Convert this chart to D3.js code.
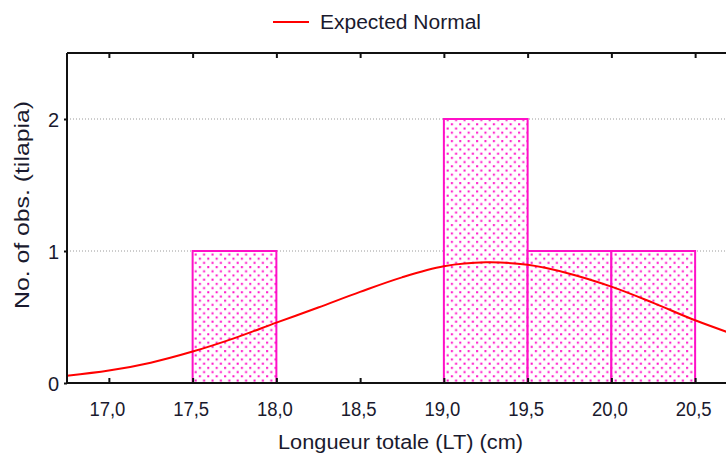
<!DOCTYPE html>
<html>
<head>
<meta charset="utf-8">
<script src="https://cdn.jsdelivr.net/npm/d3@7"></script>
<style>
  html, body { margin: 0; padding: 0; background: #fff; }
  svg { display: block; }
  text { font-family: "Liberation Sans", Arial, sans-serif; fill: #1a1a2e; }
</style>
</head>
<body>
<svg id="chart" width="726" height="457"></svg>
<script>
// Histogram bins (cm) and observed counts
const binStarts = [17.5, 19.0, 19.5, 20.0];
const binEnds   = [18.0, 19.5, 20.0, 20.5];
const counts    = [1, 2, 1, 1];

// Expected normal curve, sampled along the length axis
const curveX = [16.75, 17.0, 17.25, 17.5, 17.75, 18.0, 18.25, 18.5, 18.75, 19.0, 19.25, 19.5, 19.75, 20.0, 20.25, 20.5, 20.75];
const curveY = [0.055, 0.094, 0.154, 0.238, 0.34, 0.457, 0.572, 0.69, 0.80, 0.884, 0.914, 0.895, 0.828, 0.73, 0.607, 0.475, 0.36];

// Axis ticks
const xTicks = [17.0, 17.5, 18.0, 18.5, 19.0, 19.5, 20.0, 20.5];
const yTicks = [0, 1, 2];

const svg = d3.select("#chart");

const plotLeft = 67, plotTop = 53, plotBottom = 383;
const x = d3.scaleLinear().domain([16.75, 20.75]).range([plotLeft, plotLeft + 4 * 167.5]);
const y = d3.scaleLinear().domain([0, 2.5]).range([plotBottom, plotTop]);

const fmt = d => d3.format(".1f")(d).replace(".", ",");
const magenta = "#ff10c8";
const fontSize = 20;

// Dotted fill for the bars
const defs = svg.append("defs");
const pat = defs.append("pattern")
  .attr("id", "dots")
  .attr("patternUnits", "userSpaceOnUse")
  .attr("width", 8.4).attr("height", 8.4);
pat.append("rect").attr("width", 8.4).attr("height", 8.4).attr("fill", "#fff");
pat.append("rect").attr("x", 1.5).attr("y", 1.5).attr("width", 2).attr("height", 2).attr("fill", magenta);
pat.append("rect").attr("x", 5.7).attr("y", 5.7).attr("width", 2).attr("height", 2).attr("fill", magenta);

defs.append("clipPath").attr("id", "plotClip")
  .append("rect").attr("x", plotLeft).attr("y", plotTop).attr("width", 800).attr("height", plotBottom - plotTop);

// Grid lines
svg.append("g")
  .selectAll("line")
  .data(yTicks.filter(d => d > 0))
  .join("line")
  .attr("x1", plotLeft).attr("x2", 726)
  .attr("y1", d => y(d)).attr("y2", d => y(d))
  .attr("stroke", "#9a9a9a")
  .attr("stroke-width", 1)
  .attr("stroke-dasharray", "1,2");

// Bars
const bins = binStarts.map((s, i) => ({ x0: s, x1: binEnds[i], n: counts[i] }));
svg.append("g")
  .selectAll("rect")
  .data(bins)
  .join("rect")
  .attr("x", d => x(d.x0))
  .attr("y", d => y(d.n))
  .attr("width", d => x(d.x1) - x(d.x0))
  .attr("height", d => y(0) - y(d.n))
  .attr("fill", "url(#dots)")
  .attr("stroke", magenta)
  .attr("stroke-width", 2);

// Expected normal curve
const line = d3.line()
  .x((d, i) => x(curveX[i]))
  .y(d => y(d))
  .curve(d3.curveCatmullRom);
svg.append("path")
  .datum(curveY)
  .attr("clip-path", "url(#plotClip)")
  .attr("d", line)
  .attr("fill", "none")
  .attr("stroke", "#ff0000")
  .attr("stroke-width", 2);

// Frame: left, top and bottom axes
const frame = svg.append("g").attr("stroke", "#111").attr("stroke-width", 2).attr("fill", "none");
frame.append("line").attr("x1", plotLeft).attr("x2", 726).attr("y1", plotTop).attr("y2", plotTop);
frame.append("line").attr("x1", plotLeft).attr("x2", plotLeft).attr("y1", plotTop).attr("y2", plotBottom + 1);
frame.append("line").attr("x1", plotLeft - 1).attr("x2", 726).attr("y1", plotBottom).attr("y2", plotBottom);

// Bottom axis (inward ticks) and labels
const xAxis = svg.append("g").attr("transform", `translate(0,${plotBottom})`)
  .call(d3.axisBottom(x).tickValues(xTicks).tickSize(-5).tickPadding(0).tickFormat(fmt));
xAxis.select(".domain").remove();
xAxis.selectAll(".tick line").attr("stroke", "#111").attr("stroke-width", 2);
xAxis.selectAll(".tick text")
  .attr("x", -2)
  .attr("y", 33)
  .attr("dy", null)
  .attr("font-size", fontSize)
  .attr("textLength", 36)
  .attr("lengthAdjust", "spacingAndGlyphs")
  .style("font-family", "'Liberation Sans', Arial, sans-serif")
  .attr("fill", "#1a1a2e");

// Top axis: inward ticks only
const xTop = svg.append("g").attr("transform", `translate(0,${plotTop})`)
  .call(d3.axisTop(x).tickValues(xTicks).tickSize(-5).tickFormat(""));
xTop.select(".domain").remove();
xTop.selectAll(".tick line").attr("stroke", "#111").attr("stroke-width", 2);

// Left axis
const yAxis = svg.append("g").attr("transform", `translate(${plotLeft},0)`)
  .call(d3.axisLeft(y).tickValues(yTicks).tickSize(3).tickPadding(5).tickFormat(d3.format("d")));
yAxis.select(".domain").remove();
yAxis.selectAll(".tick line").attr("stroke", "#111").attr("stroke-width", 2);
yAxis.selectAll(".tick text")
  .attr("font-size", fontSize)
  .attr("dy", "0.36em")
  .style("font-family", "'Liberation Sans', Arial, sans-serif")
  .attr("fill", "#1a1a2e");

// Axis titles
svg.append("text")
  .attr("x", 278).attr("y", 449)
  .attr("font-size", fontSize)
  .attr("textLength", 245)
  .attr("lengthAdjust", "spacingAndGlyphs")
  .text("Longueur totale (LT) (cm)");

svg.append("text")
  .attr("transform", "translate(29,309) rotate(-90)")
  .attr("x", 0).attr("y", 0)
  .attr("font-size", fontSize)
  .attr("textLength", 208)
  .attr("lengthAdjust", "spacingAndGlyphs")
  .text("No. of obs. (tilapia)");

// Legend
svg.append("line")
  .attr("x1", 273).attr("x2", 309).attr("y1", 22).attr("y2", 22)
  .attr("stroke", "#ff0000").attr("stroke-width", 2);
svg.append("text")
  .attr("x", 320).attr("y", 29)
  .attr("font-size", fontSize)
  .attr("textLength", 161)
  .attr("lengthAdjust", "spacingAndGlyphs")
  .text("Expected Normal");
</script>
</body>
</html>
